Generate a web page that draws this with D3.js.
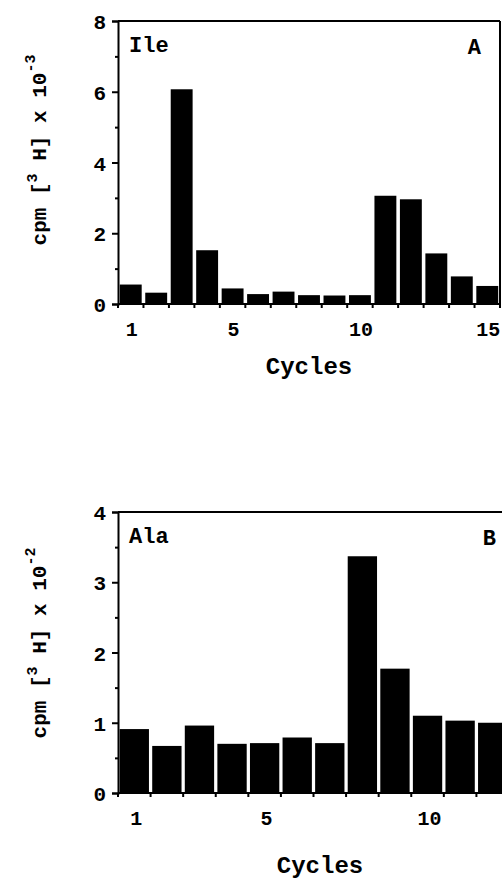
<!DOCTYPE html>
<html>
<head>
<meta charset="utf-8">
<script src="https://cdn.jsdelivr.net/npm/d3@7"></script>
<style>
  html, body { margin: 0; padding: 0; background: #fff; }
  svg { display: block; }
  text { font-family: "Liberation Mono", "Courier New", monospace; font-weight: bold; fill: #000; }
</style>
</head>
<body>
<svg id="chart" width="502" height="879"></svg>
<script>
// ---- data ----
const cyclesA = [1,2,3,4,5,6,7,8,9,10,11,12,13,14,15];
const valuesA = [0.55,0.32,6.07,1.52,0.44,0.28,0.35,0.25,0.24,0.25,3.06,2.96,1.43,0.78,0.51];
const yTicksA = [0,2,4,6,8];
const xLabelsA = [1,5,10,15];

const cyclesB = [1,2,3,4,5,6,7,8,9,10,11,12];
const valuesB = [0.91,0.67,0.96,0.70,0.71,0.79,0.71,3.37,1.77,1.10,1.03,1.00];
const yTicksB = [0,1,2,3,4];
const xLabelsB = [1,5,10];

const svg = d3.select("#chart");

function panel(cfg) {
  const g = svg.append("g");
  const x = d3.scaleBand().domain(cfg.cycles).range([cfg.left, cfg.right]).paddingInner(cfg.pad).paddingOuter(cfg.pad/2);
  const y = d3.scaleLinear().domain([0, cfg.ymax]).range([cfg.bottom, cfg.top]);

  // bars
  g.selectAll("rect.bar").data(cfg.values).join("rect")
    .attr("class","bar")
    .attr("x", (d,i) => x(cfg.cycles[i]))
    .attr("width", x.bandwidth())
    .attr("y", d => y(d))
    .attr("height", d => y(0) - y(d))
    .attr("fill", "#000");

  // frame: top and right
  g.append("line").attr("x1", cfg.left).attr("x2", cfg.frameRight).attr("y1", cfg.top).attr("y2", cfg.top)
    .attr("stroke","#000").attr("stroke-width",2);
  g.append("line").attr("x1", cfg.frameRight).attr("x2", cfg.frameRight).attr("y1", cfg.top).attr("y2", cfg.bottom)
    .attr("stroke","#000").attr("stroke-width",2);

  // y axis
  const minor = d3.range(0, cfg.ymax + 1e-9, cfg.minorStep).filter(v => !cfg.yTicks.includes(v));
  const yAxis = d3.axisLeft(y).tickValues(cfg.yTicks).tickSize(6).tickPadding(6).tickFormat(d3.format("d"));
  const ya = g.append("g").attr("transform", `translate(${cfg.left},0)`).call(yAxis);
  ya.select(".domain").attr("stroke-width", 2);
  ya.selectAll(".tick line").attr("stroke-width", 2);
  ya.selectAll(".tick text").attr("font-size", 21).style("font-family", "Liberation Mono").style("font-weight","bold").attr("dy","0.36em");
  const ym = d3.axisLeft(y).tickValues(minor).tickSize(3).tickFormat("");
  const ymg = g.append("g").attr("transform", `translate(${cfg.left},0)`).call(ym);
  ymg.select(".domain").remove();
  ymg.selectAll(".tick line").attr("stroke-width", 2);

  // x axis: ticks at band boundaries, labels at selected cycles
  const step = x.step();
  const bounds = cfg.cycles.map(c => x(c) - x.paddingInner()*step/2).concat([x(cfg.cycles[cfg.cycles.length-1]) + x.bandwidth() + x.paddingInner()*step/2]);
  g.append("line").attr("x1", cfg.left).attr("x2", cfg.frameRight).attr("y1", cfg.bottom).attr("y2", cfg.bottom)
    .attr("stroke","#000").attr("stroke-width",2);
  g.selectAll("line.xt").data(bounds).join("line").attr("class","xt")
    .attr("x1", d=>d).attr("x2", d=>d).attr("y1", cfg.bottom).attr("y2", cfg.bottom+4)
    .attr("stroke","#000").attr("stroke-width",2);
  g.selectAll("text.xl").data(cfg.xLabels).join("text").attr("class","xl")
    .attr("x", d => x(d) + x.bandwidth()/2 + cfg.xlOff)
    .attr("y", cfg.bottom + 32)
    .attr("text-anchor","middle").attr("font-size", 20).text(d => d);

  // axis title
  g.append("text").attr("x", cfg.cyclesX).attr("y", cfg.cyclesY).attr("text-anchor","middle")
    .attr("font-size", 24).text("Cycles");

  // y label
  const yl = g.append("text").attr("transform", `translate(${cfg.ylX},${cfg.ylY}) rotate(-90)`)
    .attr("text-anchor","middle").attr("font-size", 21);
  yl.append("tspan").text("cpm [");
  yl.append("tspan").attr("dy", -9).attr("font-size", 15).text("3");
  yl.append("tspan").attr("dy", 9).text(" H] x 10");
  yl.append("tspan").attr("dy", -11).attr("font-size", 15).text(cfg.exp);

  // panel labels
  g.append("text").attr("x", cfg.left + 11).attr("y", cfg.top + 31).attr("font-size", 22).text(cfg.name);
  g.append("text").attr("x", cfg.letterX).attr("y", cfg.top + 33).attr("text-anchor","end").attr("font-size", 22).text(cfg.letter);
}

panel({cycles: cyclesA, values: valuesA, yTicks: yTicksA, xLabels: xLabelsA, ymax: 8, minorStep: 1,
  left: 118, right: 500, frameRight: 500, top: 21, bottom: 304, pad: 0.14, xlOff: 1,
  cyclesX: 309, cyclesY: 374, ylX: 46, ylY: 150, exp: "-3", name: "Ile", letter: "A", letterX: 481});

panel({cycles: cyclesB, values: valuesB, yTicks: yTicksB, xLabels: xLabelsB, ymax: 4, minorStep: 0.5,
  left: 118, right: 509, frameRight: 524, top: 512, bottom: 793, pad: 0.1, xlOff: 2,
  cyclesX: 320, cyclesY: 873, ylX: 46, ylY: 643, exp: "-2", name: "Ala", letter: "B", letterX: 496});
</script>
</body>
</html>
